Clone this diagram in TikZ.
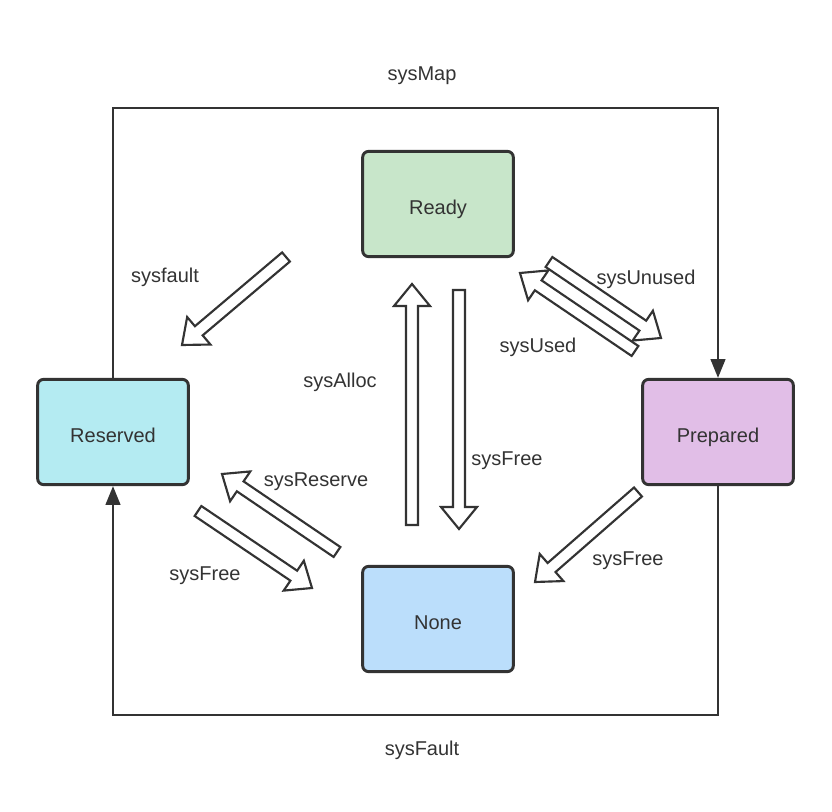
\documentclass[tikz,border=0pt]{standalone}
\usepackage{fontspec}
\setmainfont{Liberation Sans}
\usetikzlibrary{calc,arrows.meta}

\definecolor{ink}{HTML}{333333}
\definecolor{readyfill}{HTML}{C8E6CA}
\definecolor{reservedfill}{HTML}{B4EBF2}
\definecolor{preparedfill}{HTML}{E1BEE7}
\definecolor{nonefill}{HTML}{BBDEFB}

\tikzset{
  state/.style={draw=ink, line width=2.2pt, rounded corners=4.5pt,
    minimum width=113pt, minimum height=79pt, text=ink,
    text height=16pt, text depth=0pt,
    font=\fontsize{15}{17}\selectfont},
  lbl/.style={text=ink, text height=10.7pt, text depth=0pt,
    font=\fontsize{15}{17}\selectfont},
  loop/.style={draw=ink, line width=1.5pt, -{Triangle[length=14pt,width=11pt]}},
  barrow/.style={draw=ink, line width=1.6pt, fill=white, line join=miter}
}

% hollow block arrow from #1 (tail) to #2 (tip)
\newcommand{\blockarrow}[2]{%
  \coordinate (hb) at ($(#2)!16.5pt!(#1)$);
  \draw[barrow] ($(#1)!4.5pt!90:(#2)$) -- ($(hb)!4.5pt!-90:(#1)$)
    -- ($(hb)!13.5pt!-90:(#1)$) -- (#2) -- ($(hb)!13.5pt!90:(#1)$)
    -- ($(hb)!4.5pt!90:(#1)$) -- ($(#1)!4.5pt!-90:(#2)$) -- cycle;
}

\begin{document}
\begin{tikzpicture}[x=0.75pt,y=-0.75pt]
\useasboundingbox (0,0) rectangle (832,812);

\node[state, fill=readyfill] (ready) at (438,204) {Ready};
\node[state, fill=reservedfill] (reserved) at (113,432) {Reserved};
\node[state, fill=preparedfill] (prepared) at (718,432) {Prepared};
\node[state, fill=nonefill] (none) at (438,619) {None};

\coordinate (tl) at (113,108);
\coordinate (tr) at (718,108);
\coordinate (bl) at (113,715);
\coordinate (br) at (718,715);
\draw[loop] (reserved.north) -- (tl) -- (tr) -- (prepared.north);
\draw[loop] (prepared.south) -- (br) -- (bl) -- (reserved.south);
\node[lbl] (map) at (422,73) {sysMap};
\node[lbl] (fault) at (422,748) {sysFault};

\coordinate (a1) at (286,257); \coordinate (b1) at (182,345);
\coordinate (a2) at (412,525); \coordinate (b2) at (412,284);
\coordinate (a3) at (459,290); \coordinate (b3) at (459,529);
\coordinate (a4) at (549,262); \coordinate (b4) at (661,338);
\coordinate (a5) at (635,351); \coordinate (b5) at (520,273);
\coordinate (a6) at (337,552); \coordinate (b6) at (222,474);
\coordinate (a7) at (198,511); \coordinate (b7) at (312,588);
\coordinate (a8) at (638,492); \coordinate (b8) at (535,582);
\foreach \i in {1,...,8} {\blockarrow{a\i}{b\i}}

\node[lbl] (l1) at (165,275) {sysfault};
\node[lbl] (l2) at (340,380) {sysAlloc};
\node[lbl] (l3) at (507,458) {sysFree};
\node[lbl] (l4) at (646,277) {sysUnused};
\node[lbl] (l5) at (538,345) {sysUsed};
\node[lbl] (l6) at (316,479) {sysReserve};
\node[lbl] (l7) at (205,573) {sysFree};
\node[lbl] (l8) at (628,558) {sysFree};
\end{tikzpicture}
\end{document}
